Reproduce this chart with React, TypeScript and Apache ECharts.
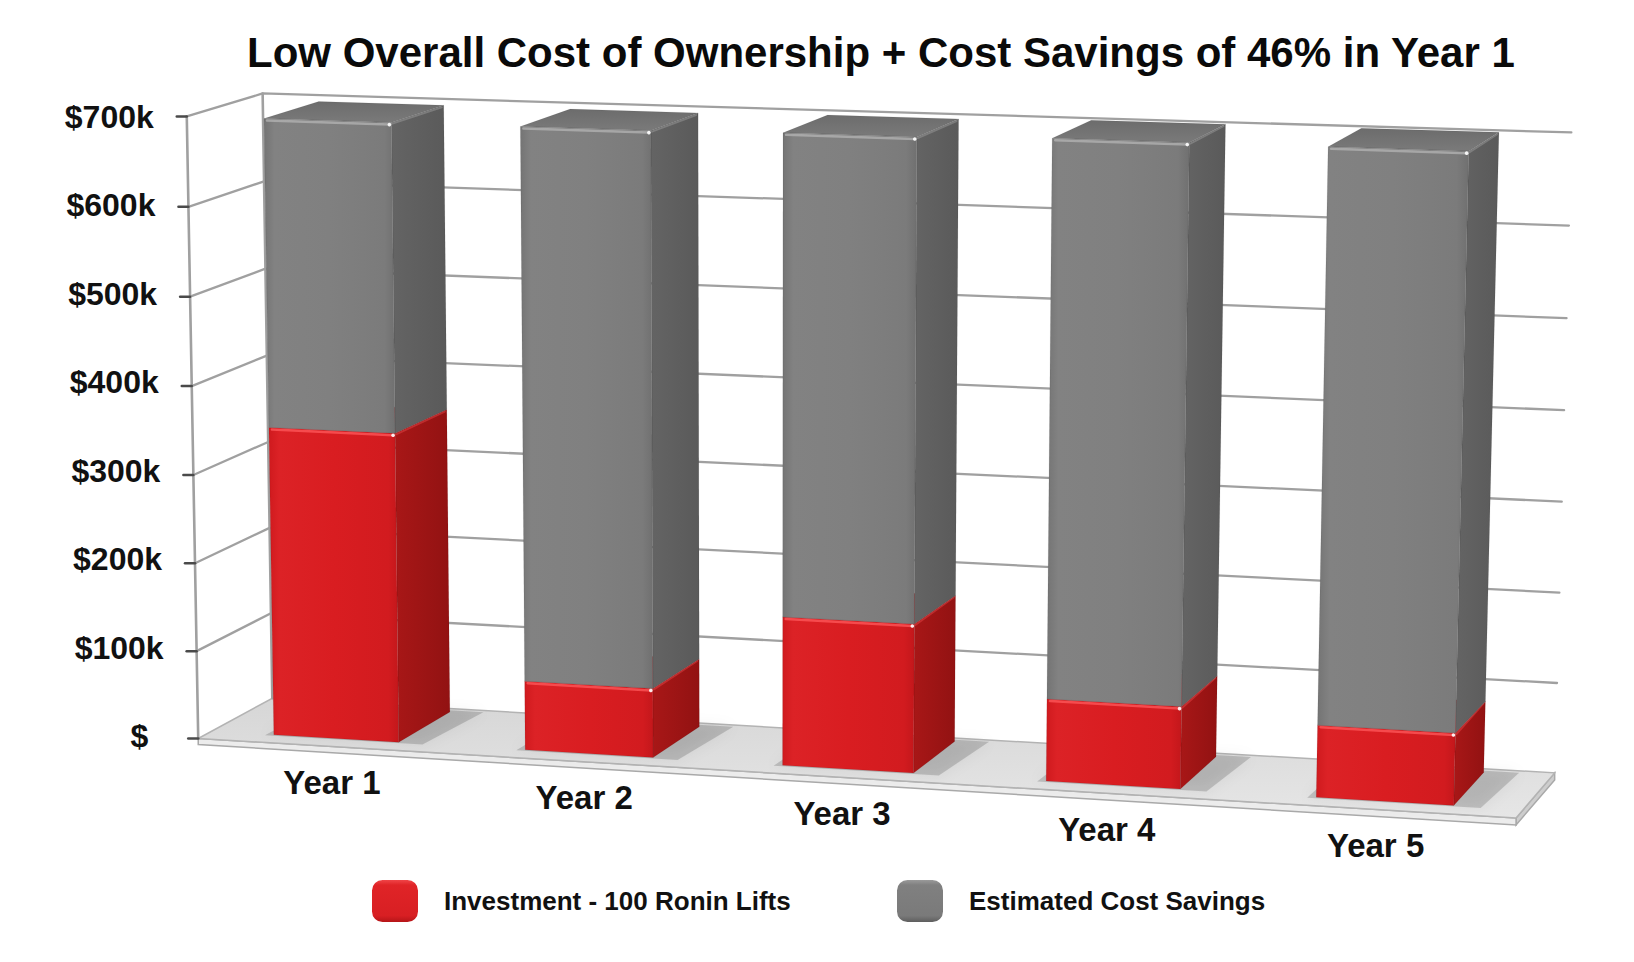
import React, { useEffect, useRef } from "react";
import * as echarts from "echarts";

// ---------- data ----------
const TITLE = "Low Overall Cost of Ownership + Cost Savings of 46% in Year 1";
const categories = ["Year 1", "Year 2", "Year 3", "Year 4", "Year 5"];
const investment = [350000, 78000, 166000, 91000, 79000];
const savings = [345000, 617000, 531000, 609000, 621000];
const yTicks = [0, 100000, 200000, 300000, 400000, 500000, 600000, 700000];
const Y_MAX = 700000;
const Y_STEP = 100000;
const seriesNames = ["Investment - 100 Ronin Lifts", "Estimated Cost Savings"];

// ---------- layout ----------
const W = 1634;
const H = 962;
const GRID = { left: 202, top: 117, right: 118, bottom: 226 };
const BAR_RATIO = 0.5;
const Z_FRONT = 0.18;
const Z_BACK = 0.92;
const TITLE_FONT = '"Liberation Sans", Arial, Helvetica, sans-serif';
const X_LABEL_PAD_RIGHT = [3, 24, 34, 30, 18];

// perspective calibration of the 3D box (normalised X across, Y up, Z depth) -> screen px
const CALIB: number[][] = [
  [0, 0, 0, 202, 736],
  [0, 1, 0, 183, 116],
  [0, 0, 1, 268, 700],
  [0, 1, 1, 267, 91],
  [1, 0, 1, 1556, 772],
  [1, 1, 1, 1571, 133],
  [1, 0, 0, 1516, 822],
  [0, 6 / 7, 0, 185, 208],
  [0, 1 / 7, 0, 200, 649],
  [1, 6 / 7, 1, 1569, 226],
  [1, 1 / 7, 1, 1556, 679],
  [0, 6 / 7, 1, 267, 183],
  [0, 1 / 7, 1, 268, 616],
];

function solveProjection(pts: number[][]): number[] {
  const N = 11;
  const M: number[][] = Array.from({ length: N }, () => new Array(N).fill(0));
  const r: number[] = new Array(N).fill(0);
  const add = (row: number[], b: number) => {
    for (let i = 0; i < N; i++) {
      r[i] += row[i] * b;
      for (let j = 0; j < N; j++) M[i][j] += row[i] * row[j];
    }
  };
  for (const [X, Y, Z, u0, v0] of pts) {
    const u = u0 / 1000;
    const v = v0 / 1000;
    add([X, Y, Z, 1, 0, 0, 0, 0, -u * X, -u * Y, -u * Z], u);
    add([0, 0, 0, 0, X, Y, Z, 1, -v * X, -v * Y, -v * Z], v);
  }
  for (let c = 0; c < N; c++) {
    let p = c;
    for (let k = c + 1; k < N; k++) if (Math.abs(M[k][c]) > Math.abs(M[p][c])) p = k;
    [M[c], M[p]] = [M[p], M[c]];
    [r[c], r[p]] = [r[p], r[c]];
    for (let k = c + 1; k < N; k++) {
      const f = M[k][c] / M[c][c];
      for (let j = c; j < N; j++) M[k][j] -= f * M[c][j];
      r[k] -= f * r[c];
    }
  }
  const x = new Array(N).fill(0);
  for (let c = N - 1; c >= 0; c--) {
    let s = r[c];
    for (let j = c + 1; j < N; j++) s -= M[c][j] * x[j];
    x[c] = s / M[c][c];
  }
  return x;
}

const P = solveProjection(CALIB);
function project(X: number, Y: number, Z: number): number[] {
  const w = P[8] * X + P[9] * Y + P[10] * Z + 1;
  return [
    ((P[0] * X + P[1] * Y + P[2] * Z + P[3]) / w) * 1000,
    ((P[4] * X + P[5] * Y + P[6] * Z + P[7]) / w) * 1000,
  ];
}

const lin = (x2: number, y2: number, stops: [number, string][]) => ({
  type: "linear",
  x: 0,
  y: 0,
  x2,
  y2,
  colorStops: stops.map(([offset, color]) => ({ offset, color })),
});

const PALETTE = {
  red: {
    front: lin(1, 0, [[0, "#cf1a1e"], [0.08, "#dc2226"], [0.5, "#d91d21"], [0.92, "#d21b1f"], [1, "#c3171b"]]),
    side: lin(1, 0, [[0, "#a81717"], [1, "#921212"]]),
    top: lin(0, 1, [[0, "#d42024"], [1, "#e5383b"]]),
    hl: "#ff5a5c",
    legend: lin(0, 1, [[0, "#f04548"], [0.12, "#e02427"], [0.85, "#d81f23"], [1, "#b51518"]]),
  },
  gray: {
    front: lin(1, 0, [[0, "#747474"], [0.08, "#828282"], [0.5, "#808080"], [0.92, "#7b7b7b"], [1, "#707070"]]),
    side: lin(1, 0, [[0, "#646464"], [1, "#5a5a5a"]]),
    top: lin(0, 1, [[0, "#6c6c6c"], [1, "#7a7a7a"]]),
    hl: "#b4b4b4",
    legend: lin(0, 1, [[0, "#9a9a9a"], [0.12, "#808080"], [0.85, "#7a7a7a"], [1, "#5e5e5e"]]),
  },
};

// axis label layouts derived from the projection
const yRich: Record<string, any> = {};
yTicks.forEach((t, k) => {
  const fx = project(0, t / Y_MAX, 0)[0];
  const right = t === 0 ? fx - 50 : fx - 33;
  yRich["t" + k] = {
    fontSize: 32,
    fontWeight: "bold",
    fontFamily: TITLE_FONT,
    color: "#111111",
    padding: [0, Math.max(0, 172 - right), 0, 0],
  };
});
const xRich: Record<string, any> = {};
categories.forEach((c, i) => {
  const v = project((i + 0.5) / categories.length, 0, 0)[1];
  xRich["c" + i] = {
    fontSize: 33,
    fontWeight: "bold",
    fontFamily: TITLE_FONT,
    color: "#111111",
    lineHeight: Math.max(36, 2 * (v + 36 - (H - GRID.bottom))),
    padding: [0, X_LABEL_PAD_RIGHT[i], 0, 0],
  };
});

const poly = (points: number[][], style: any) => ({ type: "polygon", shape: { points }, style });
const line = (points: number[][], stroke: string, lineWidth: number) => ({
  type: "polyline",
  shape: { points },
  style: { stroke, lineWidth, fill: null, lineCap: "round", lineJoin: "round" },
});

function renderFrame(params: any, api: any) {
  const cs = params.coordSys;
  const p = api.coord([0, api.value(1)]);
  const t = (cs.y + cs.height - p[1]) / cs.height;
  const children: any[] = [];
  const wallColor = "#a0a0a0";
  if (params.dataIndex === 0) {
    const FLB = project(0, 0, 0);
    const FRB = project(1, 0, 0);
    const BRB = project(1, 0, 1);
    const BLB = project(0, 0, 1);
    children.push(
      poly([FRB, BRB, [BRB[0], BRB[1] + 7], [FRB[0], FRB[1] + 7]], { fill: "#cdcdcd", stroke: "#a9a9a9", lineWidth: 1.5 })
    );
    children.push(
      poly([FLB, FRB, [FRB[0], FRB[1] + 7], [FLB[0], FLB[1] + 6]], { fill: "#ececec", stroke: "#a9a9a9", lineWidth: 1.5 })
    );
    children.push(
      poly([FLB, FRB, BRB, BLB], {
        fill: lin(0, 1, [[0, "#d6d6d6"], [1, "#e6e6e6"]]),
        stroke: "#b3b3b3",
        lineWidth: 1.5,
      })
    );
    children.push(line([project(0, 0, 0), project(0, 1, 0)], wallColor, 2.6));
    children.push(line([project(0, 0, 1), project(0, 1, 1)], wallColor, 2.6));
  }
  if (t > 0) {
    children.push(line([project(0, t, 0), project(0, t, 1), project(1, t, 1)], wallColor, 2.3));
  }
  const f = project(0, t, 0);
  children.push(line([[f[0] - 10, f[1]], [f[0], f[1]]], "#4a4a4a", 2.5));
  return { type: "group", children };
}

function makeBarRenderer(kind: "red" | "gray") {
  const pal = PALETTE[kind];
  return (params: any, api: any) => {
    const cs = params.coordSys;
    const i = api.value(0);
    const lo = api.coord([i, api.value(1)]);
    const hi = api.coord([i, api.value(2)]);
    const band = api.size([1, 0])[0];
    const xc = (lo[0] - cs.x) / cs.width;
    const hw = (band * BAR_RATIO) / 2 / cs.width;
    const base = cs.y + cs.height;
    const y0 = (base - lo[1]) / cs.height;
    const y1 = (base - hi[1]) / cs.height;
    const X0 = xc - hw;
    const X1 = xc + hw;
    const children: any[] = [];
    if (kind === "red") {
      const s = [
        project(X0 - 0.006, 0, Z_FRONT - 0.02),
        project(X1 + 0.02, 0, Z_FRONT - 0.02),
        project(X1 + 0.025, 0, Z_BACK + 0.04),
        project(X0 - 0.004, 0, Z_BACK + 0.04),
      ];
      children.push(poly(s, { fill: "rgba(0,0,0,0.16)", shadowBlur: 14, shadowColor: "rgba(0,0,0,0.35)" }));
    }
    const fBL = project(X0, y0, Z_FRONT);
    const fBR = project(X1, y0, Z_FRONT);
    const fTR = project(X1, y1, Z_FRONT);
    const fTL = project(X0, y1, Z_FRONT);
    const bBR = project(X1, y0, Z_BACK);
    const bTR = project(X1, y1, Z_BACK);
    const bTL = project(X0, y1, Z_BACK);
    children.push(poly([fBR, bBR, bTR, fTR], { fill: pal.side, stroke: "rgba(0,0,0,0.08)", lineWidth: 0.8, lineJoin: "round" }));
    children.push(poly([fTL, fTR, bTR, bTL], { fill: pal.top, stroke: "rgba(0,0,0,0.08)", lineWidth: 0.8, lineJoin: "round" }));
    children.push(poly([fBL, fBR, fTR, fTL], { fill: pal.front, stroke: "rgba(0,0,0,0.1)", lineWidth: 0.8, lineJoin: "round" }));
    children.push({
      type: "polyline",
      shape: { points: [[fTL[0] + 3, fTL[1] + 2], [fTR[0] - 2, fTR[1] + 2]] },
      style: { stroke: pal.hl, lineWidth: 2.5, opacity: 0.75, fill: null, lineCap: "round" },
    });
    children.push({
      type: "polyline",
      shape: { points: [[fTR[0] + 1, fTR[1] + 1], [bTR[0] - 2, bTR[1] + 2]] },
      style: { stroke: pal.hl, lineWidth: 2, opacity: 0.35, fill: null, lineCap: "round" },
    });
    children.push({
      type: "circle",
      shape: { cx: fTR[0] - 2, cy: fTR[1] + 2, r: 1.8 },
      style: { fill: "#ffffff", opacity: 0.9 },
    });
    return { type: "group", children };
  };
}

export default function App() {
  const ref = useRef<HTMLDivElement>(null);
  useEffect(() => {
    if (!ref.current) return;
    const chart = echarts.init(ref.current, undefined, { renderer: "svg" });
    const redData = categories.map((c, i) => [i, 0, investment[i]]);
    const grayData = categories.map((c, i) => [i, investment[i], investment[i] + savings[i]]);
    chart.setOption({
      animation: false,
      backgroundColor: "#ffffff",
      title: {
        text: TITLE,
        left: 247,
        top: 31,
        padding: 0,
        textStyle: { fontSize: 42, fontWeight: "bold", fontFamily: TITLE_FONT, color: "#0a0a0a" },
      },
      legend: seriesNames.map((n, k) => ({
        data: [{ name: n, icon: "roundRect", itemStyle: { color: k === 0 ? PALETTE.red.legend : PALETTE.gray.legend } }],
        left: k === 0 ? 372 : 897,
        top: 880,
        padding: 0,
        itemWidth: 46,
        itemHeight: 42,
        selectedMode: false,
        textStyle: {
          fontSize: 26,
          fontWeight: "bold",
          fontFamily: TITLE_FONT,
          color: "#111111",
          padding: [0, 0, 0, 21],
        },
      })),
      grid: { ...GRID, containLabel: false },
      xAxis: {
        type: "category",
        data: categories,
        z: 10,
        axisLine: { show: false },
        axisTick: { show: false },
        axisLabel: {
          margin: 0,
          interval: 0,
          formatter: (v: string, i: number) => `{c${i}|${v}}`,
          rich: xRich,
        },
      },
      yAxis: {
        type: "value",
        min: 0,
        max: Y_MAX,
        interval: Y_STEP,
        z: 10,
        splitLine: { show: false },
        axisLine: { show: false },
        axisTick: { show: false },
        axisLabel: {
          margin: 30,
          formatter: (v: number) => {
            const k = Math.round(v / Y_STEP);
            const txt = v === 0 ? "$" : "$" + v / 1000 + "k";
            return `{t${k}|${txt}}`;
          },
          rich: yRich,
        },
      },
      series: [
        {
          type: "custom",
          name: "frame",
          silent: true,
          z: 1,
          data: yTicks.map((t) => [0, t]),
          encode: { x: 0, y: 1 },
          renderItem: renderFrame,
        },
        {
          type: "custom",
          name: seriesNames[0],
          z: 2,
          itemStyle: { color: "#d71c20" },
          data: redData,
          encode: { x: 0, y: [1, 2] },
          renderItem: makeBarRenderer("red"),
        },
        {
          type: "custom",
          name: seriesNames[1],
          z: 3,
          itemStyle: { color: "#7f7f7f" },
          data: grayData,
          encode: { x: 0, y: [1, 2] },
          renderItem: makeBarRenderer("gray"),
        },
      ],
    });
    return () => chart.dispose();
  }, []);
  return <div ref={ref} style={{ position: "absolute", left: 0, top: 0, width: W, height: H }} />;
}
